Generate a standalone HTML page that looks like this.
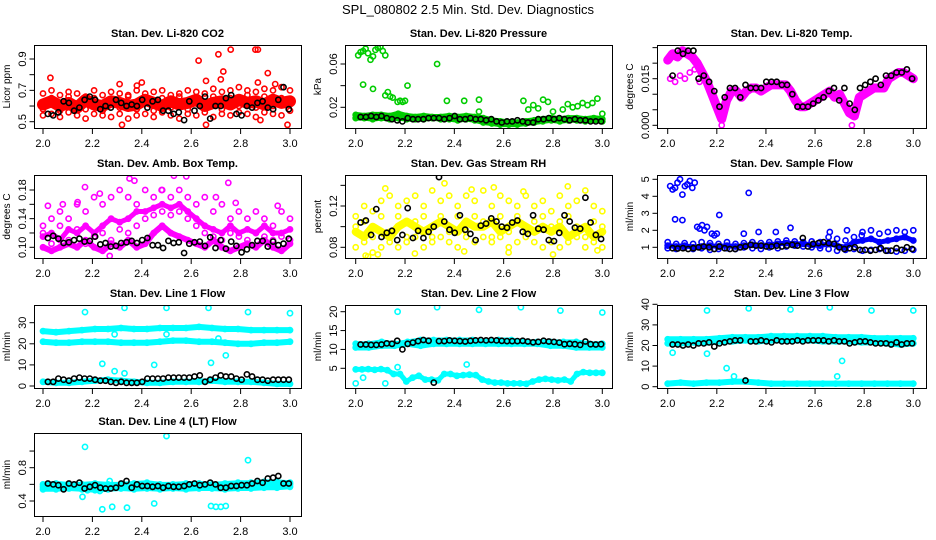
<!DOCTYPE html>
<html><head><meta charset="utf-8"><style>
html,body{margin:0;padding:0;background:#fff;}
svg{display:block;font-family:"Liberation Sans",sans-serif;}
</style></head><body>
<svg id="chart" width="936" height="540" viewBox="0 0 936 540" xmlns="http://www.w3.org/2000/svg">
<rect x="0" y="0" width="936" height="540" fill="#fff"/>
<text x="468" y="14" font-size="13" text-anchor="middle">SPL_080802  2.5 Min. Std. Dev. Diagnostics</text>
</svg>
<script>
const xTickLabels = ["2.0","2.2","2.4","2.6","2.8","3.0"];
const xTicks = [2.0,2.2,2.4,2.6,2.8,3.0];

const co2Hi = [0.68,0.70,0.67,0.69,0.68,0.66,0.70,0.67,0.69,0.68,0.67,0.70,0.68,0.69,0.70,0.67,0.68,0.70,0.69,0.68,0.71,0.69,0.70,0.72,0.70,0.69,0.71,0.70,0.72,0.70];
const co2Mid = [0.61,0.63,0.60,0.62,0.59,0.64,0.61,0.60,0.63,0.62,0.60,0.61,0.64,0.62,0.60,0.63,0.61,0.62,0.64,0.60,0.62,0.63,0.61,0.64,0.62,0.63,0.61,0.64,0.62,0.63];
const co2Mid2 = [0.58,0.65,0.57,0.66,0.60,0.58,0.65,0.57,0.64,0.59,0.66,0.58,0.63,0.57,0.65,0.59,0.66,0.58,0.64,0.60,0.66,0.58,0.65,0.60,0.67,0.59,0.66,0.60,0.65,0.61];
const co2Lo = [0.54,0.55,0.53,0.56,0.54,0.52,0.55,0.54,0.53,0.55,0.52,0.54,0.55,0.53,0.56,0.54,0.52,0.55,0.54,0.56,0.53,0.55,0.54,0.56,0.55,0.53,0.56,0.55,0.54,0.57];
const co2OutX = [2.03,2.31,2.38,2.40,2.63,2.66,2.71,2.72,2.73,2.76,2.86,2.87,2.87,2.91,2.94,2.99,2.32,2.66,2.88];
const co2OutY = [0.78,0.74,0.73,0.75,0.89,0.76,0.93,0.77,0.82,0.96,0.96,0.96,0.75,0.81,0.74,0.48,0.48,0.48,0.51];
const co2Black = [0.55,0.54,0.56,0.63,0.62,0.57,0.59,0.64,0.66,0.64,0.58,0.60,0.59,0.64,0.62,0.60,0.61,0.60,0.64,0.59,0.63,0.64,0.57,0.57,0.55,0.56,0.51,0.63,0.57,0.60,0.66,0.52,0.60,0.60,0.65,0.67,0.55,0.54,0.60,0.59,0.62,0.63,0.59,0.58,0.64,0.72,0.58];

const presMain = [0.013,0.012,0.013,0.013,0.012,0.014,0.012,0.011,0.012,0.011,0.011,0.012,0.011,0.012,0.011,0.010,0.008,0.007,0.006,0.006,0.007,0.008,0.009,0.010,0.009,0.010,0.010,0.009,0.010,0.009];
const presLo = [0.010,0.010,0.009,0.010,0.009,0.010,0.009,0.009,0.009,0.010,0.009,0.009,0.008,0.009,0.008,0.006,0.005,0.004,0.004,0.004,0.005,0.006,0.007,0.008,0.007,0.008,0.008,0.007,0.008,0.007];
const presOutX = [2.01,2.02,2.03,2.04,2.05,2.06,2.07,2.08,2.09,2.10,2.11,2.12,2.03,2.07,2.12,2.13,2.14,2.15,2.17,2.18,2.19,2.20,2.21,2.33,2.37,2.44,2.50,2.50,2.68,2.70,2.72,2.74,2.76,2.78,2.80,2.84,2.86,2.88,2.90,2.92,2.94,2.96,2.98,3.00];
const presOutY = [0.068,0.071,0.072,0.074,0.070,0.064,0.067,0.073,0.075,0.076,0.072,0.068,0.041,0.037,0.031,0.034,0.030,0.029,0.025,0.026,0.025,0.026,0.040,0.060,0.026,0.026,0.027,0.016,0.026,0.018,0.022,0.019,0.027,0.025,0.016,0.018,0.023,0.020,0.021,0.024,0.022,0.024,0.028,0.014];
const presBlack = [0.011,0.011,0.012,0.011,0.012,0.010,0.009,0.008,0.007,0.010,0.009,0.009,0.009,0.010,0.010,0.010,0.009,0.010,0.012,0.009,0.009,0.010,0.009,0.009,0.008,0.009,0.007,0.006,0.007,0.007,0.008,0.007,0.006,0.006,0.009,0.009,0.010,0.009,0.010,0.009,0.008,0.009,0.008,0.008,0.007,0.007,0.007];

const tempMid = [0.021,0.023,0.022,0.024,0.023,0.022,0.020,0.017,0.014,0.010,0.006,0.002,0.008,0.011,0.011,0.009,0.011,0.012,0.012,0.011,0.012,0.013,0.013,0.013,0.013,0.011,0.008,0.006,0.006,0.007,0.008,0.009,0.010,0.011,0.009,0.010,0.007,0.004,0.003,0.009,0.010,0.011,0.012,0.012,0.012,0.015,0.016,0.017,0.017,0.016,0.015];
const tempOutX = [2.01,2.03,2.05,2.07,2.09,2.11,2.13,2.22,2.75];
const tempOutY = [0.015,0.014,0.016,0.015,0.017,0.018,0.014,0.000,0.000];
const tempBlack = [0.016,0.024,0.023,0.024,0.024,0.015,0.016,0.014,0.011,0.006,0.009,0.012,0.012,0.009,0.013,0.012,0.012,0.012,0.014,0.014,0.014,0.013,0.013,0.010,0.006,0.006,0.006,0.007,0.008,0.009,0.011,0.012,0.008,0.012,0.007,0.005,0.012,0.013,0.014,0.015,0.013,0.016,0.016,0.017,0.017,0.018,0.015];

const ambHi = [0.13,0.14,0.15,0.14,0.16,0.15,0.17,0.16,0.17,0.18,0.17,0.16,0.18,0.17,0.18,0.17,0.18,0.17,0.16,0.17,0.15,0.16,0.14,0.15,0.14,0.15,0.14,0.13,0.15,0.14];
const ambMid = [0.115,0.12,0.11,0.125,0.12,0.13,0.12,0.13,0.14,0.135,0.14,0.15,0.15,0.155,0.16,0.155,0.16,0.15,0.14,0.13,0.125,0.12,0.13,0.12,0.125,0.12,0.13,0.12,0.12,0.125];
const ambMid2 = [0.12,0.105,0.13,0.11,0.125,0.105,0.115,0.12,0.11,0.125,0.12,0.13,0.14,0.145,0.15,0.145,0.15,0.14,0.13,0.12,0.115,0.11,0.12,0.115,0.11,0.12,0.115,0.11,0.115,0.11];
const ambLo = [0.10,0.095,0.10,0.105,0.10,0.11,0.10,0.095,0.105,0.10,0.11,0.10,0.105,0.12,0.13,0.12,0.115,0.11,0.105,0.10,0.11,0.10,0.095,0.10,0.105,0.10,0.11,0.10,0.095,0.105];
const ambOutX = [2.02,2.08,2.17,2.35,2.37,2.53,2.58,2.70,2.75,2.78,2.14,2.23,2.48,2.95,2.27];
const ambOutY = [0.158,0.160,0.184,0.196,0.193,0.200,0.199,0.170,0.190,0.162,0.163,0.175,0.180,0.158,0.088];
const ambBlack = [0.113,0.116,0.112,0.106,0.107,0.110,0.112,0.108,0.109,0.115,0.104,0.106,0.101,0.102,0.106,0.107,0.109,0.106,0.110,0.113,0.103,0.103,0.099,0.109,0.106,0.107,0.092,0.105,0.107,0.108,0.102,0.114,0.099,0.110,0.098,0.108,0.102,0.093,0.097,0.103,0.109,0.109,0.101,0.108,0.103,0.105,0.112];

const rhHi = [0.11,0.12,0.115,0.125,0.13,0.12,0.125,0.13,0.12,0.135,0.125,0.13,0.12,0.13,0.125,0.135,0.12,0.13,0.125,0.12,0.13,0.12,0.125,0.115,0.13,0.12,0.125,0.135,0.12,0.115];
const rhMid = [0.095,0.09,0.1,0.095,0.09,0.1,0.105,0.1,0.095,0.1,0.105,0.1,0.095,0.105,0.1,0.1,0.105,0.095,0.1,0.105,0.1,0.095,0.1,0.095,0.1,0.09,0.095,0.1,0.09,0.095];
const rhMid2 = [0.1,0.105,0.09,0.11,0.095,0.11,0.09,0.105,0.11,0.09,0.11,0.095,0.11,0.095,0.11,0.105,0.09,0.11,0.095,0.11,0.095,0.105,0.11,0.1,0.105,0.11,0.1,0.09,0.105,0.1];
const rhLo = [0.08,0.085,0.075,0.08,0.085,0.08,0.085,0.09,0.08,0.085,0.09,0.085,0.08,0.09,0.085,0.09,0.085,0.09,0.08,0.085,0.09,0.085,0.08,0.085,0.08,0.085,0.09,0.08,0.085,0.08];
const rhOutX = [2.05,2.09,2.12,2.36,2.47,2.56,2.68,2.86,2.04,2.24,2.44,2.62,2.80,2.98];
const rhOutY = [0.071,0.073,0.137,0.142,0.136,0.138,0.134,0.139,0.072,0.074,0.076,0.075,0.073,0.077];
const rhBlack = [0.104,0.106,0.092,0.117,0.090,0.094,0.096,0.087,0.092,0.118,0.089,0.096,0.089,0.095,0.100,0.148,0.105,0.097,0.094,0.111,0.097,0.093,0.087,0.101,0.103,0.108,0.105,0.100,0.099,0.104,0.106,0.095,0.093,0.111,0.098,0.097,0.087,0.086,0.094,0.111,0.105,0.099,0.098,0.128,0.104,0.092,0.088];

const flowHi = [1.3,1.2,1.25,1.2,1.3,1.25,1.2,1.3,1.2,1.25,1.3,1.25,1.3,1.35,1.4,1.35,1.3,1.35,1.3,1.6,1.5,1.4,1.6,1.9,2.0,1.8,1.9,2.0,1.9,2.0];
const flowMid = [1.1,1.05,1.1,1.0,1.05,1.1,1.05,1.1,1.05,1.1,1.15,1.1,1.15,1.2,1.25,1.2,1.2,1.15,1.1,1.2,1.1,1.0,1.3,1.4,1.5,1.3,1.4,1.5,1.6,1.4];
const flowLo = [0.95,0.9,1.0,0.9,0.95,0.85,0.9,0.95,0.9,1.0,0.95,0.9,1.0,0.95,1.05,1.1,1.05,1.0,0.95,0.9,0.8,0.85,0.9,0.8,0.85,0.9,0.8,0.75,0.8,0.85];
const flowOutX = [2.01,2.02,2.03,2.04,2.05,2.06,2.07,2.08,2.09,2.10,2.11,2.12,2.13,2.14,2.15,2.16,2.18,2.19,2.20,2.03,2.06,2.21,2.33,2.37,2.44,2.50,2.31,2.66,2.73,2.79];
const flowOutY = [4.6,4.4,4.5,4.8,5.0,4.1,4.6,4.7,4.9,4.5,4.8,2.2,2.1,2.3,2.0,2.2,1.8,1.7,1.8,2.65,2.6,2.9,4.2,1.9,1.9,2.15,1.8,1.9,2.0,1.7];
const flowBlack = [0.95,0.93,0.95,0.90,0.95,1.0,1.05,1.0,0.9,1.05,0.95,0.9,0.9,1.0,1.05,1.15,1.1,1.1,1.05,1.05,1.1,1.05,1.1,1.15,1.1,1.55,1.05,1.2,1.25,1.3,1.25,1.2,1.0,0.9,0.95,1.0,0.85,0.85,0.8,0.85,0.95,0.8,0.8,0.95,0.85,1.0,0.9];

const l1Top = [26,25.5,26,26.5,27,27,27.5,27,27,27.5,27.5,27.5,28,27.5,27,27,26.5,26.5,26.5,26.5];
const l1Mid = [21,20.5,20.5,21,21,21,20.5,20.5,20.5,21,21.5,21.5,21,21,20.5,20,20,20.5,20.5,21];
const l1Low = [2,1.5,1.5,2,2.5,3,2.5,2,1.5,1.5,2,2,2,2.5,2,2,2,1.5,1,1];
const l1OutX = [2.17,2.33,2.50,2.67,2.83,3.0,2.24,2.29,2.33,2.45,2.68,2.74,2.29,2.50,2.71];
const l1OutY = [35,37,37,37,35,34.5,10.5,7,6,10,11,14.5,24.5,24.5,22.5];
const l1Black = [2,2,3.5,3,2.5,3.5,4,3.5,3.5,3,2.5,2.5,2,1.5,2,1.5,1.5,1.5,2,3.5,3.5,3.5,3.5,4,4,4,4,4,4.5,5,2,3,4,5,4.5,4.5,3.5,3,5.5,4.5,3,3,2.5,3,3,3,3];

const l2Top = [10.5,10.5,11,11,11.5,11,11.5,11.5,11.5,11.5,11.5,11.5,11.5,11.5,11.5,11,11,10.5,10.5,10.5];
const l2Top2 = [11.5,11.5,12,11.5,12,12.5,12.5,12.5,12.5,12.5,12,12.5,12.5,12,12,12,12,12,11.5,11.5];
const l2Low = [4.7,4.7,4.8,4.6,4.8,4.5,3.5,3.5,1.5,2.5,3,2,2,1.8,3.5,3.5,3,3.2,3.3,3.2,2,1.5,1.2,1.2,1.0,1.0,1.0,0.9,1.5,2,2.2,2,1.8,2,1.5,3.5,4,3.8,3.8,3.8];
const l2OutX = [2.17,2.33,2.50,2.67,2.83,3.0,2.45,2.0,2.03,2.12,2.17];
const l2OutY = [20,21.2,20.5,21.2,20.3,19.8,6,1,2.5,1,5.3];
const l2Black = [11.3,11.3,11.2,11.2,11.3,11.6,11.5,12.3,10.0,11.5,11.8,12.2,12.5,12.3,1.2,12.2,12.2,12.4,12.3,12.2,12.1,12.3,12.4,12.5,12.4,12.5,12.4,12.3,12.2,12.2,12.2,12.3,12.1,11.9,12.0,12.3,12.1,12.0,11.8,11.4,11.5,11.4,11.2,12.1,11.4,11.3,11.4];

const l3Top = [23,23,23,23,23.5,24,24,24,24.5,24.5,24.5,24.5,24.5,24,24,24,23.5,23.5,23.5,23.5];
const l3Top2 = [21,21,21.5,21.5,22,22,22.5,22,22.5,22.5,22.5,22.5,22,22,22,21.5,21.5,21,20.5,21];
const l3Low = [1.5,2,1.5,2,2,2.5,2.5,2,1.5,1.5,1.5,1.5,1.5,1.5,1.5,1.5,1.5,1.5,1.5,1.5];
const l3OutX = [2.02,2.16,2.16,2.24,2.27,2.33,2.50,2.66,2.69,2.71,2.83,3.0];
const l3OutY = [16.5,37,16,9,5,38,37.5,38.5,5,12.5,37,37];
const l3Black = [20.5,20.5,20,20.5,20,21,21,21.5,19.5,21,21.5,22,22.5,22.5,3,22,22,22.5,22,21.5,22.5,22,22,22,22.5,22,22.5,22.5,22.5,22.5,22,22.5,22,22,21,21.5,22,22,21.5,21,21,21,20.5,21.5,20.5,21,21];

const l4Hi = [0.6,0.61,0.6,0.6,0.61,0.6,0.6,0.61,0.62,0.6,0.6,0.61,0.61,0.6,0.61,0.62,0.62,0.63,0.63,0.62];
const l4Mid = [0.57,0.58,0.57,0.58,0.57,0.57,0.58,0.57,0.58,0.58,0.57,0.58,0.57,0.58,0.58,0.58,0.59,0.6,0.6,0.6];
const l4Lo = [0.54,0.54,0.55,0.54,0.53,0.54,0.55,0.54,0.55,0.54,0.55,0.54,0.55,0.55,0.54,0.55,0.55,0.56,0.56,0.57];
const l4OutX = [2.17,2.50,2.83,2.16,2.24,2.28,2.34,2.45,2.68,2.70,2.72,2.74,2.27,2.18,2.23];
const l4OutY = [1.05,1.18,0.89,0.45,0.30,0.33,0.32,0.37,0.34,0.33,0.33,0.34,0.64,0.53,0.52];
const l4Black = [0.61,0.60,0.59,0.54,0.61,0.60,0.62,0.55,0.57,0.59,0.56,0.55,0.55,0.56,0.61,0.64,0.56,0.60,0.58,0.58,0.57,0.58,0.56,0.58,0.57,0.57,0.58,0.60,0.61,0.59,0.60,0.62,0.60,0.56,0.56,0.58,0.58,0.59,0.59,0.61,0.64,0.62,0.67,0.68,0.70,0.61,0.61];

const cols = [{l:34,r:301,x0:43,x1:290},{l:345,r:612,x0:355.7,x1:602.3},{l:657,r:926,x0:667.7,x1:913.3}];
const rows = [45,175,305,433];
const H = 83;
const NS = "http://www.w3.org/2000/svg";
const svg = document.getElementById('chart');

function el(tag, attrs, parent){
  const e = document.createElementNS(NS, tag);
  for (const k in attrs) e.setAttribute(k, attrs[k]);
  (parent||svg).appendChild(e);
  return e;
}
function evenX(n, a, b){ const out=[]; for(let i=0;i<n;i++) out.push(a + (b-a)*i/(n-1)); return out; }

const panels = [
  {key:'co2', c:0, r:0, title:'Stan. Dev. Li-820 CO2', ylab:'Licor ppm', y0:0.5,p0:121.7,y1:0.9,p1:59, ticks:[0.5,0.6,0.7,0.8,0.9], labels:['0.5','','0.7','','0.9'], color:'#ff0000',
    bands:[[co2Hi,0],[co2Mid,12],[co2Mid2,0],[co2Lo,0]], outX:co2OutX, outY:co2OutY, black:co2Black},
  {key:'pressure', c:1, r:0, title:'Stan. Dev. Li-820 Pressure', ylab:'kPa', y0:0.02,p0:107.3,y1:0.06,p1:64, ticks:[0.02,0.04,0.06], labels:['0.02','','0.06'], color:'#00cc00',
    bands:[[presMain,6],[presLo,5]], outX:presOutX, outY:presOutY, black:presBlack},
  {key:'temp', c:2, r:0, title:'Stan. Dev. Li-820 Temp.', ylab:'degrees C', y0:0,p0:125.3,y1:0.015,p1:78.7, ticks:[0,0.005,0.010,0.015,0.020,0.025], labels:['0.000','','','0.015','',''], color:'#ff00ff',
    bands:[[tempMid,9]], outX:tempOutX, outY:tempOutY, black:tempBlack},
  {key:'amb', c:0, r:1, title:'Stan. Dev. Amb. Box Temp.', ylab:'degrees C', y0:0.10,p0:247.3,y1:0.18,p1:190, ticks:[0.10,0.12,0.14,0.16,0.18], labels:['0.10','','0.14','','0.18'], color:'#ff00ff',
    bands:[[ambHi,0],[ambMid,5],[ambMid2,0],[ambLo,6]], outX:ambOutX, outY:ambOutY, black:ambBlack},
  {key:'rh', c:1, r:1, title:'Stan. Dev. Gas Stream RH', ylab:'percent', y0:0.08,p0:247.3,y1:0.12,p1:206, ticks:[0.08,0.10,0.12,0.14], labels:['0.08','','0.12',''], color:'#ffff00',
    bands:[[rhHi,0],[rhMid,8],[rhMid2,0],[rhLo,0]], outX:rhOutX, outY:rhOutY, black:rhBlack},
  {key:'sampleflow', c:2, r:1, title:'Stan. Dev. Sample Flow', ylab:'ml/min', y0:1,p0:247.3,y1:5,p1:179.3, ticks:[1,2,3,4,5], labels:['1','2','3','4','5'], color:'#0000ff',
    bands:[[flowHi,0],[flowMid,5],[flowLo,0]], outX:flowOutX, outY:flowOutY, black:flowBlack},
  {key:'line1', c:0, r:2, title:'Stan. Dev. Line 1 Flow', ylab:'ml/min', y0:0,p0:386,y1:30,p1:322.7, ticks:[0,10,20,30], labels:['0','10','20','30'], color:'#00ffff',
    bands:[[l1Top,6],[l1Mid,6],[l1Low,6]], outX:l1OutX, outY:l1OutY, black:l1Black},
  {key:'line2', c:1, r:2, title:'Stan. Dev. Line 2 Flow', ylab:'ml/min', y0:5,p0:368.3,y1:20,p1:311.7, ticks:[5,10,15,20], labels:['5','10','15','20'], color:'#00ffff',
    bands:[[l2Top,6],[l2Top2,5],[l2Low,5]], outX:l2OutX, outY:l2OutY, black:l2Black},
  {key:'line3', c:2, r:2, title:'Stan. Dev. Line 3 Flow', ylab:'ml/min', y0:0,p0:386.7,y1:40,p1:304.3, ticks:[0,10,20,30,40], labels:['0','10','20','30','40'], color:'#00ffff',
    bands:[[l3Top,6],[l3Top2,6],[l3Low,6]], outX:l3OutX, outY:l3OutY, black:l3Black},
  {key:'line4', c:0, r:3, title:'Stan. Dev. Line 4 (LT) Flow', ylab:'ml/min', y0:0.4,p0:501,y1:0.8,p1:467.7, ticks:[0.4,0.6,0.8,1.0], labels:['0.4','','0.8',''], color:'#00ffff',
    bands:[[l4Hi,5],[l4Mid,5],[l4Lo,5]], outX:l4OutX, outY:l4OutY, black:l4Black}
];

panels.forEach(p => {
  const col = cols[p.c], top = rows[p.r], bot = top + H;
  const g = el('g', {});
  
  
  const xs = v => col.x0 + (v - 2) * (col.x1 - col.x0);
  const ys = v => p.p0 + (v - p.y0) * (p.p1 - p.p0) / (p.y1 - p.y0);

  const clip = el('clipPath', {id:'clip-'+p.key}, g);
  el('rect', {x:col.l, y:top, width:col.r-col.l, height:H}, clip);
  const marks = el('g', {'clip-path':'url(#clip-'+p.key+')'}, g);
  
  

  p.bands.forEach(([arr, w]) => {
    const bx = evenX(arr.length, 2.0, 3.0);
    if (w > 0) {
      const pl = el('polyline', {points: arr.map((v,i)=>xs(bx[i]).toFixed(1)+','+ys(v).toFixed(1)).join(' '), fill:'none', stroke:p.color, 'stroke-width':w, 'stroke-linejoin':'round', 'stroke-linecap':'round'}, marks);
      
      
    }
    arr.forEach((v,i) => {
      const c = el('circle', {cx:xs(bx[i]).toFixed(1), cy:ys(v).toFixed(1), r:2.6, fill:'none', stroke:p.color, 'stroke-width':1.6}, marks);
      
      
    });
  });
  p.outX.forEach((xv,i) => {
    const c = el('circle', {cx:xs(xv).toFixed(1), cy:ys(p.outY[i]).toFixed(1), r:2.6, fill:'none', stroke:p.color, 'stroke-width':1.6}, marks);
    
    
  });
  const kx = evenX(p.black.length, 2.02, 2.995);
  p.black.forEach((v,i) => {
    const c = el('circle', {cx:xs(kx[i]).toFixed(1), cy:ys(v).toFixed(1), r:2.6, fill:'none', stroke:'#000', 'stroke-width':1.6}, marks);
    
    
  });

  const box = el('rect', {x:col.l+0.5, y:top+0.5, width:col.r-col.l, height:H, fill:'none', stroke:'#000', 'stroke-width':1}, g);
  
  

  const t = el('text', {x:(col.l+col.r)/2, y:top-8, 'font-size':11, 'font-weight':'bold', 'text-anchor':'middle'}, g);
  t.textContent = p.title;
  
  

  const yl = el('text', {x:0, y:0, 'font-size':10, 'text-anchor':'middle', transform:'translate('+(col.l-24)+','+(top+H/2)+') rotate(-90)'}, g);
  yl.textContent = p.ylab;
  
  

  p.ticks.forEach((tv,i) => {
    const py = ys(tv);
    if (py < top - 1 || py > bot + 1) return;
    el('line', {x1:col.l+0.5, x2:col.l-4.5, y1:py, y2:py, stroke:'#000', 'stroke-width':1}, g);
    if (p.labels[i]) {
      const tl = el('text', {x:0, y:0, 'font-size':11, 'text-anchor':'middle', transform:'translate('+(col.l-8)+','+py.toFixed(1)+') rotate(-90)'}, g);
      tl.textContent = p.labels[i];
      
      
    }
  });
  xTicks.forEach((tv,i) => {
    const px = xs(tv);
    el('line', {x1:px, x2:px, y1:bot+1, y2:bot+6, stroke:'#000', 'stroke-width':1}, g);
    const xl = el('text', {x:px, y:bot+19, 'font-size':11, 'text-anchor':'middle'}, g);
    xl.textContent = xTickLabels[i];
    
    
  });
});
</script>
</body></html>
